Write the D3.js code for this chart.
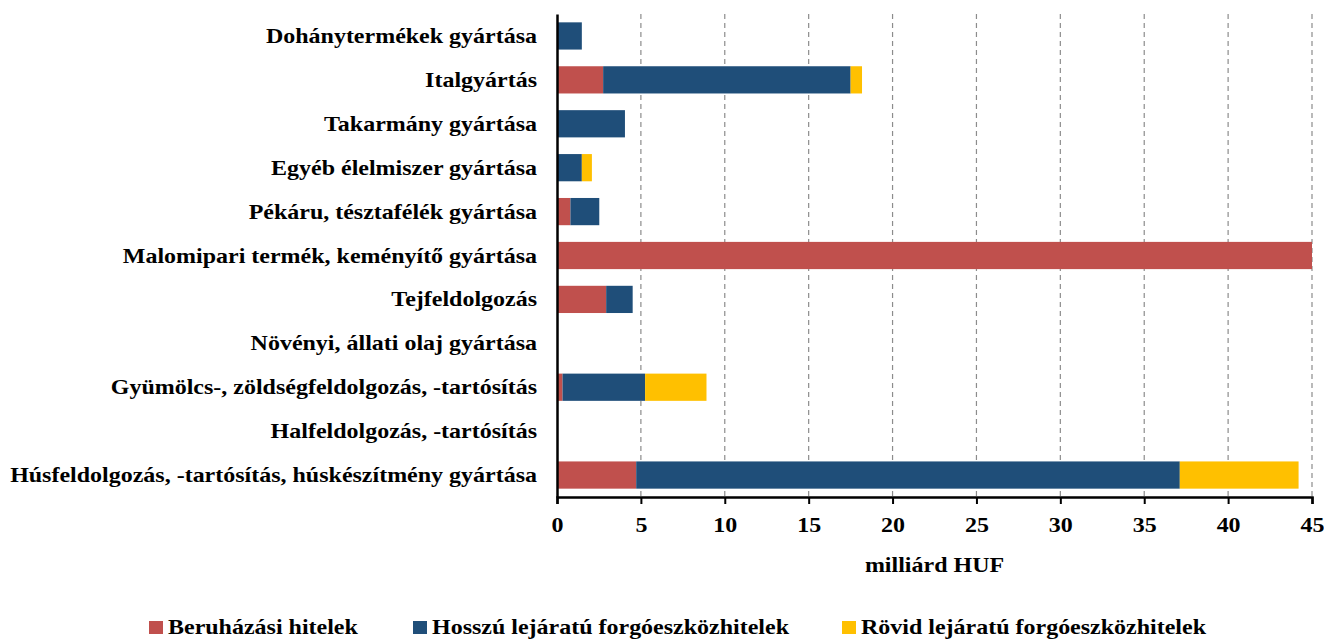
<!DOCTYPE html>
<html>
<head>
<meta charset="utf-8">
<script src="https://cdn.jsdelivr.net/npm/d3@7"></script>
<style>
  body { margin: 0; background: #fff; }
  svg { display: block; }
</style>
</head>
<body>
<div id="chart"></div>
<script>
// categories, top to bottom
const categories = [
  'Dohánytermékek gyártása',
  'Italgyártás',
  'Takarmány gyártása',
  'Egyéb élelmiszer gyártása',
  'Pékáru, tésztafélék gyártása',
  'Malomipari termék, keményítő gyártása',
  'Tejfeldolgozás',
  'Növényi, állati olaj gyártása',
  'Gyümölcs-, zöldségfeldolgozás, -tartósítás',
  'Halfeldolgozás, -tartósítás',
  'Húsfeldolgozás, -tartósítás, húskészítmény gyártása'
];
const seriesNames = ['Beruházási hitelek', 'Hosszú lejáratú forgóeszközhitelek', 'Rövid lejáratú forgóeszközhitelek'];
const beruhazasi = [0, 2.75, 0, 0, 0.8, 45, 2.93, 0, 0.33, 0, 4.72];
const hosszu     = [1.48, 14.75, 4.05, 1.48, 1.72, 0, 1.58, 0, 4.92, 0, 32.4];
const rovid      = [0, 0.68, 0, 0.6, 0, 0, 0, 0, 3.66, 0, 7.08];
const xTicks = [0, 5, 10, 15, 20, 25, 30, 35, 40, 45];
const colors = ['#C0504D', '#1F4E79', '#FFC000'];

const width = 1324, height = 639;
const margin = { top: 14, right: 12, bottom: 142, left: 557 };
const font = '"Liberation Serif", "Times New Roman", serif';
const fontSize = 22;
const stretchX = 1.09; // the original text is a little wider than it is tall

// widen text horizontally a bit, like the exported original
function stretch(sel) {
  sel.each(function () {
    const w = this.getComputedTextLength();
    d3.select(this)
      .attr('textLength', w * stretchX)
      .attr('lengthAdjust', 'spacingAndGlyphs');
  });
}

function boldText(sel) {
  sel.attr('font-family', font)
    .attr('font-size', fontSize)
    .attr('font-weight', 'bold')
    .attr('fill', '#000');
}

const rows = categories.map((c, i) => ({ cat: c, s0: beruhazasi[i], s1: hosszu[i], s2: rovid[i] }));
const stack = d3.stack().keys(['s0', 's1', 's2'])(rows);

const svg = d3.select('#chart').append('svg')
  .attr('width', width)
  .attr('height', height);

const x = d3.scaleLinear().domain([0, 45]).range([margin.left, width - margin.right]);
const y = d3.scaleBand().domain(categories).range([margin.top, height - margin.bottom]).paddingInner(0.38).paddingOuter(0.19);

// dashed grid lines
svg.append('g')
  .selectAll('line')
  .data(xTicks.filter(d => d > 0))
  .join('line')
  .attr('x1', d => x(d)).attr('x2', d => x(d))
  .attr('y1', margin.top).attr('y2', height - margin.bottom)
  .attr('stroke', '#8c8c8c')
  .attr('stroke-width', 1.2)
  .attr('stroke-dasharray', '5,4');

// bars
svg.append('g')
  .selectAll('g')
  .data(stack)
  .join('g')
  .attr('fill', (d, i) => colors[i])
  .selectAll('rect')
  .data(d => d)
  .join('rect')
  .attr('x', d => x(d[0]))
  .attr('y', d => y(d.data.cat))
  .attr('width', d => Math.max(0, x(d[1]) - x(d[0])))
  .attr('height', y.bandwidth());

// x axis
const xAxis = svg.append('g')
  .attr('transform', `translate(0,${height - margin.bottom})`)
  .call(d3.axisBottom(x).tickValues(xTicks).tickSize(7).tickPadding(12));
xAxis.select('.domain').attr('stroke', '#000').attr('stroke-width', 2.5);
xAxis.selectAll('.tick line').attr('stroke', '#000').attr('stroke-width', 2);
xAxis.selectAll('.tick text').call(boldText).call(stretch);

// y axis
const yAxis = svg.append('g')
  .attr('transform', `translate(${margin.left},0)`)
  .call(d3.axisLeft(y).tickSize(0).tickPadding(20));
yAxis.select('.domain').attr('stroke', '#000').attr('stroke-width', 2.5);
yAxis.selectAll('.tick text').call(boldText).call(stretch);

// axis title
svg.append('text')
  .attr('x', (x(0) + x(45)) / 2)
  .attr('y', 572)
  .attr('text-anchor', 'middle')
  .call(boldText)
  .text('milliárd HUF')
  .call(stretch);

// legend
const legendX = [149, 413, 842];
const legend = svg.append('g')
  .selectAll('g')
  .data(seriesNames)
  .join('g')
  .attr('transform', (d, i) => `translate(${legendX[i]},621)`);
legend.append('rect')
  .attr('width', 14).attr('height', 13)
  .attr('fill', (d, i) => colors[i]);
legend.append('text')
  .attr('x', 19).attr('y', 13)
  .call(boldText)
  .text(d => d)
  .call(stretch);
</script>
</body>
</html>
